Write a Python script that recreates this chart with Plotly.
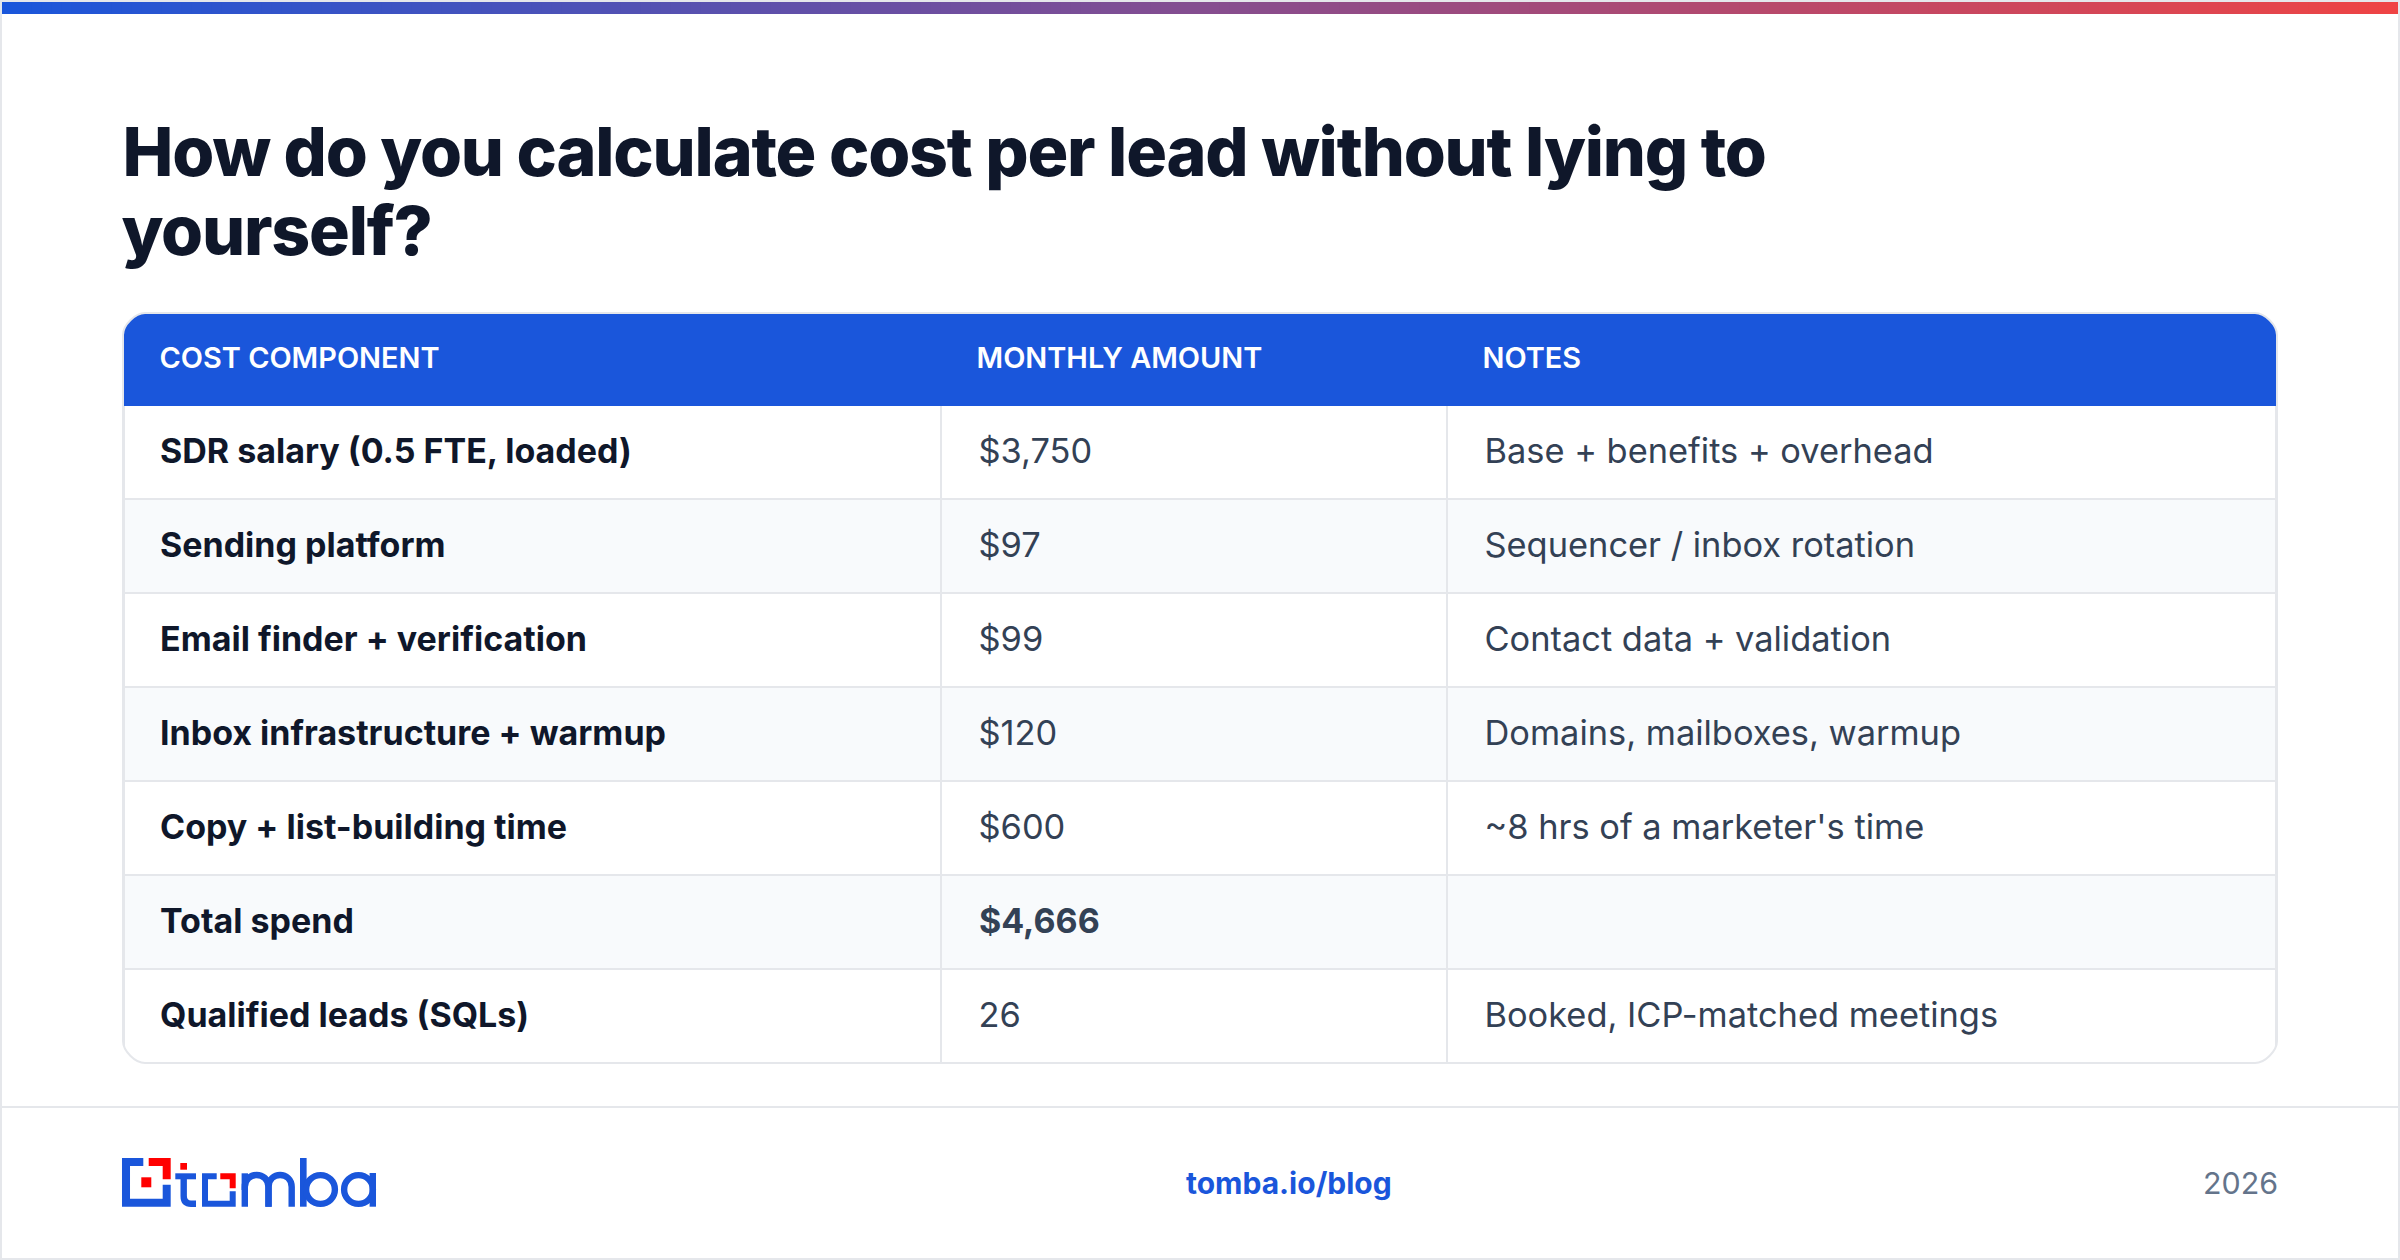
import plotly.graph_objects as go

W = 2400
H = 1260

BLUE = '#1a56db'
RED = '#ff0000'
INK = '#0f172a'
BODY = '#334155'
MUTED = '#64748b'
LINE = '#e5e7eb'
ALT = '#f8fafc'
CLEAR = 'rgba(0,0,0,0)'

title_lines = ['How do you calculate cost per lead without lying to', 'yourself?']

col_headers = ['COST COMPONENT', 'MONTHLY AMOUNT', 'NOTES']
components = ['SDR salary (0.5 FTE, loaded)', 'Sending platform', 'Email finder + verification',
              'Inbox infrastructure + warmup', 'Copy + list-building time', 'Total spend', 'Qualified leads (SQLs)']
amounts = ['$3,750', '$97', '$99', '$120', '$600', '$4,666', '26']
notes = ['Base + benefits + overhead', 'Sequencer / inbox rotation', 'Contact data + validation',
         'Domains, mailboxes, warmup', "~8 hrs of a marketer's time", '', 'Booked, ICP-matched meetings']

footer_link = 'tomba.io/blog'
footer_year = '2026'

# table box in page pixels
T_LEFT, T_RIGHT, T_TOP, T_BOTTOM = 124, 2276, 314, 1063
col_edges = [124, 941, 1447, 2276]
HEADER_H = 91
ROW_H = 94
# table cells put text at the top left, so clear tables on top carry the text
HEAD_DX = 27.5
CELL_DX = 28
TEXT_DY = 24
TITLE_SPACING = 1.2


def px(x):
    return x / W


def py(y):
    return 1 - y / H


def path(points):
    return 'M' + ' L'.join(f'{px(x):.5f},{py(y):.5f}' for x, y in points) + ' Z'


def box(x0, y0, x1, y1, color):
    return dict(type='rect', xref='paper', yref='paper', x0=px(x0), x1=px(x1), y0=py(y0), y1=py(y1),
                fillcolor=color, line_width=0, layer='above')


def poly(points, color):
    return dict(type='path', xref='paper', yref='paper', path=path(points), fillcolor=color,
                line_width=0, layer='above')


def stroke(d, color, width):
    return dict(type='path', xref='paper', yref='paper', path=d, line=dict(color=color, width=width),
                layer='above')


def pt(x, y):
    return f'{px(x):.5f},{py(y):.5f}'


def hex_mix(a, b, t):
    ca = [int(a[i:i + 2], 16) for i in (1, 3, 5)]
    cb = [int(b[i:i + 2], 16) for i in (1, 3, 5)]
    return '#' + ''.join(f'{round(u + (v - u) * t):02x}' for u, v in zip(ca, cb))


def ring(cx, cy, r):
    k = r * 0.5523
    return ('M' + pt(cx + r, cy)
            + ' C' + pt(cx + r, cy + k) + ' ' + pt(cx + k, cy + r) + ' ' + pt(cx, cy + r)
            + ' C' + pt(cx - k, cy + r) + ' ' + pt(cx - r, cy + k) + ' ' + pt(cx - r, cy)
            + ' C' + pt(cx - r, cy - k) + ' ' + pt(cx - k, cy - r) + ' ' + pt(cx, cy - r)
            + ' C' + pt(cx + k, cy - r) + ' ' + pt(cx + r, cy - k) + ' ' + pt(cx + r, cy) + ' Z')


def corner_mask(cx, cy, sx, sy, r=22):
    # white wedge outside a rounded corner, then the border arc on top
    k = r * 0.4477
    ax, ay = cx + sx * r, cy
    bx, by = cx, cy + sy * r
    curve = ' C' + pt(ax - sx * k, ay) + ' ' + pt(bx, by - sy * k) + ' ' + pt(bx, by)
    return [
        dict(type='path', xref='paper', yref='paper', path='M' + pt(cx - sx, cy - sy) + ' L' + pt(ax, cy - sy)
             + ' L' + pt(ax, ay) + curve + ' L' + pt(cx - sx, by) + ' Z',
             fillcolor='#ffffff', line_width=0, layer='above'),
        stroke('M' + pt(ax, ay) + curve, LINE, 2),
    ]


def text_domain(dx):
    return dict(x=[px(T_LEFT + dx), px(T_RIGHT + dx)], y=[py(T_BOTTOM + TEXT_DY), py(T_TOP + TEXT_DY)])


row_fill = ['#ffffff' if i % 2 == 0 else ALT for i in range(len(components))]
col_widths = [col_edges[i + 1] - col_edges[i] for i in range(3)]
body_widths = [col_widths[0] + 1.5, col_widths[1], col_widths[2] - 1.5]
blank_rows = [[''] * len(components)] * 3
no_line = dict(color=CLEAR, width=0)
# the bold total is an annotation, html inside a table cell sits lower than its row
total_idx = components.index('Total spend')
amount_text = ['' if i == total_idx else a for i, a in enumerate(amounts)]

fig = go.Figure()

# grid and fills
fig.add_trace(go.Table(
    domain=dict(x=[px(T_LEFT), px(T_RIGHT)], y=[py(T_BOTTOM), py(T_TOP)]),
    columnwidth=col_widths,
    header=dict(values=['', '', ''], height=HEADER_H, fill_color=BLUE, line=dict(color=BLUE, width=2)),
    cells=dict(
        values=blank_rows,
        height=ROW_H,
        fill_color=[row_fill, row_fill, row_fill],
        line=dict(color=LINE, width=2),
    ),
))

# header text
fig.add_trace(go.Table(
    domain=text_domain(HEAD_DX),
    columnwidth=col_widths,
    header=dict(
        values=col_headers,
        height=HEADER_H,
        align='left',
        fill_color=CLEAR,
        line=no_line,
        font=dict(family='Inter', size=28.9, color='#ffffff', weight=630),
    ),
    cells=dict(values=blank_rows, height=ROW_H, fill_color=CLEAR, line=no_line),
))

# body text
fig.add_trace(go.Table(
    domain=text_domain(CELL_DX),
    columnwidth=body_widths,
    header=dict(values=['', '', ''], height=HEADER_H, fill_color=CLEAR, line=no_line),
    cells=dict(
        values=[components, amount_text, notes],
        height=ROW_H,
        align='left',
        fill_color=CLEAR,
        line=no_line,
        font=dict(family='Inter', size=[34, 34.4, 34.4], color=[INK, BODY, BODY], weight=[650, 400, 400]),
    ),
))

shapes = []

# page frame and gradient strip
for i in range(240):
    x0 = 2 + i * (W - 4) / 240
    x1 = 2 + (i + 1) * (W - 4) / 240
    shapes.append(box(x0, 2, x1 + 1, 14, hex_mix(BLUE, '#ef4444', (i + 0.5) / 240)))
shapes += [box(0, 0, W, 2, LINE), box(0, H - 2, W, H, LINE), box(0, 0, 2, H, LINE), box(W - 2, 0, W, H, LINE)]
shapes.append(box(2, 1106, W - 2, 1108, LINE))

# table border and rounded corners
shapes += [box(122, 334, 124, 1042, LINE), box(2276, 334, 2278, 1042, LINE),
           box(144, 312, 2256, 314, LINE), box(144, 1062, 2256, 1064, LINE)]
shapes += corner_mask(123, 313, 1, 1)
shapes += corner_mask(2277, 313, -1, 1)
shapes += corner_mask(123, 1063, 1, -1)
shapes += corner_mask(2277, 1063, -1, -1)

# logo mark
shapes.append(poly([(122, 1158), (143.3, 1158), (143.3, 1166), (130, 1166), (130, 1198.7), (162.7, 1198.7),
                    (162.7, 1184.7), (170.7, 1184.7), (170.7, 1206.7), (122, 1206.7)], BLUE))
shapes.append(poly([(148.7, 1158), (170.7, 1158), (170.7, 1179.3), (162.7, 1179.3), (162.7, 1166), (148.7, 1166)], RED))
shapes.append(box(141.3, 1177.3, 151.3, 1187.3, RED))

# logo wordmark: t, o, m, b, a
shapes.append(box(180.3, 1163, 187, 1169.7, RED))
shapes.append(box(175.3, 1173.3, 196, 1179.3, BLUE))
shapes.append(stroke('M' + pt(183.7, 1176) + ' L' + pt(183.7, 1196) + ' C' + pt(183.7, 1201) + ' '
                     + pt(186, 1203.7) + ' ' + pt(191, 1203.7) + ' L' + pt(196, 1203.7), BLUE, 6.4))
shapes.append(poly([(202, 1173.3), (216.7, 1173.3), (216.7, 1179.3), (208, 1179.3), (208, 1200.7), (229.7, 1200.7),
                    (229.7, 1191.3), (235.7, 1191.3), (235.7, 1206.7), (202, 1206.7)], BLUE))
shapes.append(poly([(220.3, 1173.3), (235.7, 1173.3), (235.7, 1188.3), (229.7, 1188.3), (229.7, 1179.3), (220.3, 1179.3)], RED))
for x0, x1 in [(244.8, 268.5), (268.5, 291.7)]:
    shapes.append(stroke('M' + pt(x0, 1206.7) + ' L' + pt(x0, 1187) + ' C' + pt(x0, 1171) + ' ' + pt(x1, 1171)
                         + ' ' + pt(x1, 1187) + ' L' + pt(x1, 1206.7), BLUE, 6.4))
shapes.append(box(241.6, 1173.3, 248, 1190, BLUE))
shapes.append(stroke('M' + pt(303.3, 1158) + ' L' + pt(303.3, 1206.7), BLUE, 6.6))
shapes.append(stroke(ring(320.5, 1189.5, 14.4), BLUE, 6.4))
shapes.append(stroke(ring(358.5, 1189.5, 14.4), BLUE, 6.4))
shapes.append(stroke('M' + pt(372.8, 1173) + ' L' + pt(372.8, 1206.7), BLUE, 6.4))

annotations = []
for text, y, x in zip(title_lines, [151, 230], [121, 119.5]):
    # letter spacing is added after layout, so pull each line back by half of what it loses
    annotations.append(dict(text=text, xref='paper', yref='paper', x=px(x), y=py(y), xanchor='left',
                            xshift=-len(text) * TITLE_SPACING / 2, yanchor='middle', showarrow=False,
                            font=dict(family='Inter', size=68, color=INK, weight=800)))
annotations.append(dict(text=amounts[total_idx], xref='paper', yref='paper', x=px(976.5), y=py(920), xanchor='left',
                        yanchor='middle', showarrow=False, font=dict(family='Inter', size=34, color=BODY, weight=700)))
annotations.append(dict(text=footer_link, xref='paper', yref='paper', x=px(1288.5), y=py(1183), xanchor='center',
                        yanchor='middle', showarrow=False, font=dict(family='Inter', size=30, color=BLUE, weight=700)))
annotations.append(dict(text=footer_year, xref='paper', yref='paper', x=px(2279.5), y=py(1183), xanchor='right',
                        yanchor='middle', showarrow=False, font=dict(family='Inter', size=30.4, color=MUTED)))

fig.update_layout(
    width=W,
    height=H,
    margin=dict(l=0, r=0, t=0, b=0),
    paper_bgcolor='#ffffff',
    shapes=shapes,
    annotations=annotations,
)

# drop the browser's default body margin, tighten the two title lines
post = """
document.body.style.margin = '0';
document.querySelectorAll('.annotation-text').forEach(function (t, i) {
    if (i < 2) { t.style.letterSpacing = '-%spx'; }
});
""" % TITLE_SPACING
fig.write_html("out.html", post_script=post, config={'displayModeBar': False})
